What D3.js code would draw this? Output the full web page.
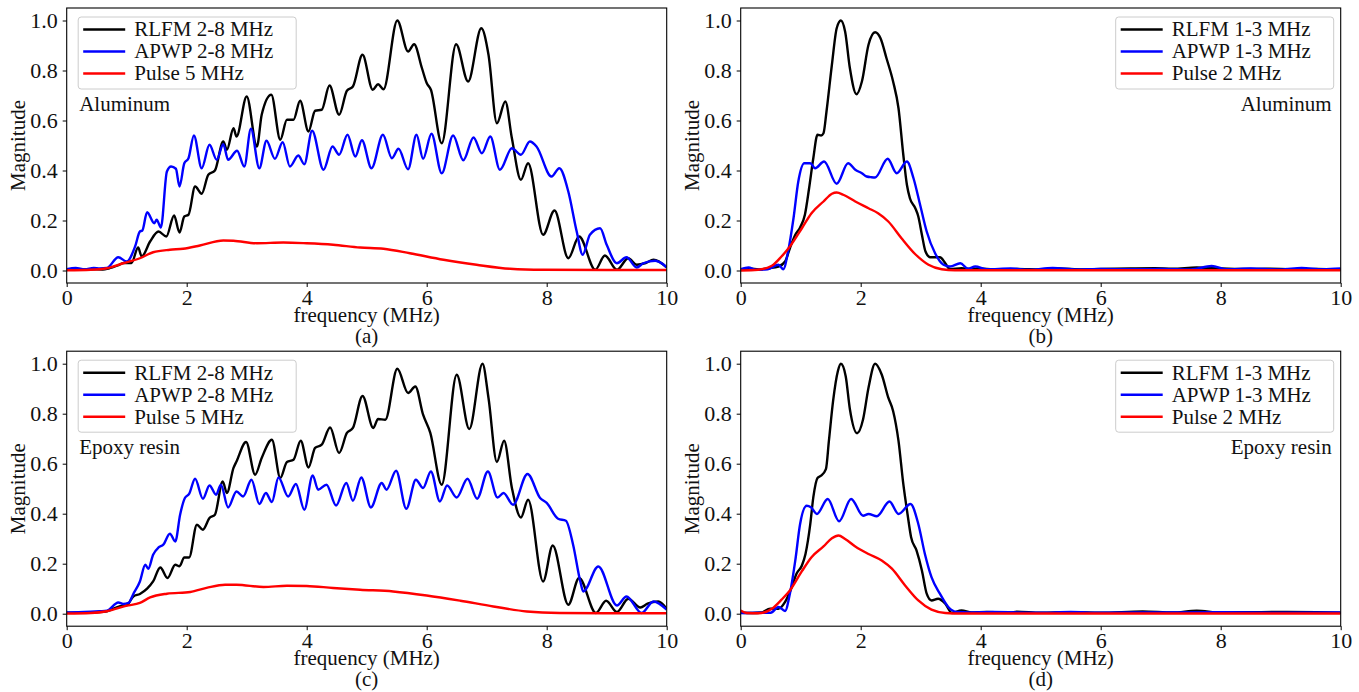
<!doctype html>
<html>
<head>
<meta charset="utf-8">
<title>Spectra</title>
<script src="https://d3js.org/d3.v7.min.js"></script>
<style>
body { margin: 0; background: #fff; }
</style>
</head>
<body>
<svg id="chart" width="1359" height="692"></svg>
<script>
var freqTicks = [0, 2, 4, 6, 8, 10];
var magTicks = [0, 0.2, 0.4, 0.6, 0.8, 1.0];
var labels28 = ["RLFM 2-8 MHz", "APWP 2-8 MHz", "Pulse 5 MHz"];
var labels13 = ["RLFM 1-3 MHz", "APWP 1-3 MHz", "Pulse 2 MHz"];
var colors = ["#000000", "#0000ff", "#ff0000"];

// (a) aluminum, 2-8 MHz
var rlfmA = [[0,0.004],[0.2,0.003],[0.4,0.005],[0.6,0.004],[0.7,0.008],[0.85,0.02],[0.95,0.03],[1.08,0.03],[1.19,0.092],[1.25,0.056],[1.39,0.116],[1.53,0.156],[1.66,0.136],[1.79,0.22],[1.88,0.152],[1.96,0.216],[2.03,0.223],[2.14,0.336],[2.25,0.307],[2.36,0.383],[2.47,0.40],[2.61,0.516],[2.67,0.483],[2.78,0.569],[2.83,0.536],[3.0,0.696],[3.17,0.496],[3.25,0.623],[3.41,0.703],[3.56,0.523],[3.67,0.603],[3.78,0.603],[3.89,0.679],[4.03,0.556],[4.14,0.639],[4.25,0.643],[4.38,0.74],[4.54,0.623],[4.67,0.719],[4.77,0.736],[4.93,0.863],[5.1,0.723],[5.19,0.745],[5.28,0.725],[5.51,1.0],[5.69,0.876],[5.79,0.905],[5.92,0.81],[6.0,0.75],[6.07,0.723],[6.25,0.509],[6.49,0.905],[6.69,0.756],[6.91,0.969],[7.03,0.863],[7.17,0.589],[7.31,0.676],[7.42,0.529],[7.57,0.363],[7.69,0.429],[7.94,0.143],[8.13,0.24],[8.36,0.049],[8.54,0.136],[8.81,0.003],[8.97,0.06],[9.17,0.003],[9.36,0.049],[9.5,0.023],[9.65,0.03],[9.78,0.043],[10,0.013]];
var apwpA = [[0,0.005],[0.15,0.01],[0.3,0.004],[0.45,0.01],[0.55,0.008],[0.67,0.01],[0.86,0.053],[1.0,0.036],[1.14,0.096],[1.22,0.156],[1.26,0.16],[1.34,0.233],[1.46,0.189],[1.5,0.203],[1.57,0.172],[1.67,0.396],[1.74,0.416],[1.82,0.407],[1.88,0.336],[1.96,0.429],[2.03,0.449],[2.12,0.54],[2.25,0.409],[2.38,0.503],[2.5,0.443],[2.61,0.505],[2.69,0.443],[2.84,0.479],[2.96,0.416],[3.07,0.567],[3.21,0.409],[3.33,0.519],[3.47,0.447],[3.6,0.513],[3.72,0.416],[3.86,0.46],[3.96,0.425],[4.09,0.559],[4.28,0.403],[4.43,0.496],[4.54,0.463],[4.68,0.543],[4.81,0.456],[4.92,0.521],[5.08,0.409],[5.27,0.543],[5.42,0.449],[5.53,0.487],[5.69,0.405],[5.83,0.543],[5.94,0.447],[6.08,0.547],[6.25,0.389],[6.44,0.54],[6.61,0.441],[6.78,0.532],[6.92,0.469],[7.06,0.536],[7.22,0.403],[7.42,0.489],[7.57,0.463],[7.72,0.516],[7.83,0.496],[8.08,0.376],[8.21,0.409],[8.36,0.316],[8.5,0.156],[8.6,0.063],[8.72,0.143],[8.89,0.169],[9.0,0.103],[9.17,0.029],[9.33,0.053],[9.5,0.012],[9.61,0.029],[9.81,0.039],[10,0.013]];
var pulseA = [[0,0.001],[0.4,0.003],[0.67,0.009],[0.94,0.029],[1.22,0.049],[1.44,0.073],[1.72,0.083],[1.94,0.087],[2.22,0.1],[2.61,0.12],[2.78,0.119],[3.17,0.109],[3.61,0.112],[4.0,0.109],[4.44,0.103],[4.89,0.092],[5.28,0.087],[5.72,0.069],[6.28,0.043],[6.83,0.023],[7.39,0.007],[7.94,0.003],[9,0.002],[10,0.002]];

// (b) aluminum, 1-3 MHz
var rlfmB = [[0,0.004],[0.15,0.008],[0.3,0.004],[0.46,0.009],[0.63,0.016],[0.74,0.036],[0.82,0.089],[0.91,0.143],[0.99,0.172],[1.07,0.223],[1.14,0.329],[1.21,0.449],[1.28,0.543],[1.34,0.54],[1.38,0.549],[1.43,0.636],[1.52,0.823],[1.6,0.969],[1.67,1.0],[1.74,0.956],[1.82,0.809],[1.93,0.705],[2.02,0.756],[2.13,0.903],[2.24,0.953],[2.33,0.929],[2.43,0.849],[2.54,0.756],[2.63,0.649],[2.71,0.463],[2.77,0.343],[2.82,0.289],[2.91,0.249],[2.96,0.216],[3.02,0.143],[3.08,0.076],[3.16,0.053],[3.32,0.053],[3.41,0.029],[3.49,0.005],[3.68,0.009],[3.85,0.006],[4.0,0.008],[4.2,0.004],[4.6,0.006],[5.0,0.004],[5.3,0.008],[5.7,0.004],[6.0,0.006],[6.5,0.008],[6.9,0.009],[7.2,0.007],[7.6,0.012],[8.0,0.008],[8.4,0.006],[8.8,0.007],[9.2,0.005],[9.6,0.006],[10,0.004]];
var apwpB = [[0,0.005],[0.13,0.012],[0.25,0.003],[0.45,0.005],[0.63,0.023],[0.71,0.005],[0.79,0.076],[0.88,0.209],[0.96,0.356],[1.06,0.429],[1.16,0.429],[1.24,0.409],[1.39,0.436],[1.6,0.347],[1.79,0.429],[1.91,0.403],[2.02,0.389],[2.1,0.376],[2.18,0.373],[2.24,0.372],[2.45,0.447],[2.6,0.389],[2.77,0.436],[2.88,0.369],[2.99,0.263],[3.1,0.156],[3.24,0.069],[3.38,0.023],[3.49,0.016],[3.66,0.029],[3.79,0.007],[3.91,0.016],[4.1,0.005],[4.5,0.008],[4.8,0.003],[5.2,0.01],[5.6,0.004],[6.0,0.006],[6.5,0.005],[7.0,0.006],[7.5,0.004],[7.85,0.018],[8.1,0.005],[8.5,0.008],[9.0,0.004],[9.35,0.01],[9.7,0.005],[10,0.008]];
var pulseB = [[0,0],[0.29,0.003],[0.52,0.019],[0.68,0.056],[0.82,0.096],[1.02,0.169],[1.18,0.229],[1.38,0.276],[1.52,0.307],[1.6,0.312],[1.71,0.303],[1.91,0.276],[2.13,0.249],[2.29,0.229],[2.46,0.196],[2.68,0.129],[2.91,0.065],[3.13,0.023],[3.35,0.005],[3.57,0.001],[10,0.001]];

// (c) epoxy resin, 2-8 MHz
var rlfmC = [[0,0.004],[0.3,0.004],[0.5,0.006],[0.67,0.01],[0.89,0.03],[1.0,0.033],[1.11,0.069],[1.22,0.079],[1.34,0.1],[1.44,0.129],[1.56,0.185],[1.68,0.143],[1.81,0.196],[1.88,0.19],[1.96,0.225],[2.04,0.225],[2.17,0.356],[2.27,0.336],[2.38,0.383],[2.47,0.396],[2.6,0.529],[2.67,0.483],[2.78,0.583],[2.83,0.609],[2.99,0.687],[3.14,0.556],[3.25,0.623],[3.42,0.696],[3.56,0.543],[3.67,0.607],[3.78,0.616],[3.9,0.692],[4.03,0.585],[4.14,0.663],[4.25,0.676],[4.39,0.745],[4.54,0.643],[4.67,0.723],[4.77,0.743],[4.93,0.871],[5.11,0.743],[5.19,0.779],[5.31,0.776],[5.51,0.98],[5.69,0.883],[5.81,0.909],[5.94,0.796],[6.06,0.723],[6.25,0.516],[6.5,0.956],[6.71,0.739],[6.93,1.0],[7.03,0.863],[7.17,0.607],[7.29,0.692],[7.42,0.503],[7.57,0.385],[7.69,0.456],[7.94,0.129],[8.1,0.273],[8.36,0.036],[8.54,0.143],[8.82,0.003],[8.99,0.052],[9.17,0.007],[9.36,0.06],[9.56,0.025],[9.68,0.04],[9.86,0.049],[10,0.02]];
var apwpC = [[0,0.005],[0.2,0.006],[0.4,0.008],[0.55,0.01],[0.67,0.012],[0.86,0.045],[0.94,0.039],[1.03,0.043],[1.11,0.079],[1.22,0.129],[1.31,0.196],[1.36,0.18],[1.44,0.236],[1.53,0.265],[1.61,0.276],[1.72,0.32],[1.81,0.289],[1.89,0.396],[1.97,0.463],[2.04,0.479],[2.14,0.54],[2.27,0.46],[2.38,0.513],[2.49,0.476],[2.57,0.516],[2.69,0.425],[2.83,0.489],[2.94,0.469],[3.08,0.536],[3.21,0.439],[3.32,0.483],[3.42,0.447],[3.53,0.545],[3.69,0.469],[3.82,0.519],[3.96,0.416],[4.1,0.553],[4.19,0.496],[4.33,0.516],[4.49,0.433],[4.66,0.523],[4.77,0.452],[4.91,0.545],[5.07,0.425],[5.25,0.523],[5.33,0.496],[5.49,0.572],[5.66,0.42],[5.82,0.536],[5.94,0.503],[6.07,0.569],[6.22,0.449],[6.34,0.513],[6.5,0.465],[6.68,0.54],[6.84,0.46],[7.02,0.569],[7.18,0.465],[7.28,0.483],[7.44,0.436],[7.68,0.559],[7.89,0.463],[8.0,0.443],[8.19,0.38],[8.32,0.372],[8.44,0.276],[8.56,0.129],[8.61,0.089],[8.86,0.189],[9.17,0.033],[9.33,0.069],[9.58,0.003],[9.78,0.049],[10,0.016]];
var pulseC = [[0,0.001],[0.4,0.003],[0.67,0.01],[1.0,0.032],[1.22,0.043],[1.39,0.065],[1.67,0.08],[2.06,0.087],[2.33,0.103],[2.64,0.116],[2.83,0.116],[3.28,0.107],[3.67,0.112],[4.0,0.111],[4.44,0.103],[4.89,0.096],[5.44,0.089],[6.0,0.073],[6.56,0.052],[7.11,0.029],[7.67,0.009],[8.22,0.003],[9,0.002],[10,0.002]];

// (d) epoxy resin, 1-3 MHz
var rlfmD = [[0,0.004],[0.2,0.003],[0.35,0.005],[0.49,0.02],[0.63,0.02],[0.74,0.047],[0.85,0.106],[0.93,0.16],[1.02,0.193],[1.08,0.239],[1.16,0.359],[1.21,0.465],[1.28,0.543],[1.34,0.552],[1.42,0.578],[1.47,0.691],[1.54,0.851],[1.62,0.971],[1.67,1.0],[1.75,0.95],[1.82,0.818],[1.94,0.722],[2.04,0.778],[2.13,0.904],[2.24,1.0],[2.35,0.957],[2.46,0.864],[2.54,0.811],[2.63,0.691],[2.71,0.519],[2.78,0.399],[2.84,0.306],[2.93,0.253],[3.02,0.173],[3.1,0.08],[3.18,0.053],[3.29,0.06],[3.41,0.04],[3.52,0.003],[3.68,0.013],[3.85,0.005],[4.1,0.007],[4.5,0.004],[4.6,0.008],[5.0,0.004],[5.5,0.006],[6.0,0.004],[6.7,0.009],[7.2,0.005],[7.6,0.012],[8.0,0.005],[8.5,0.006],[9.1,0.007],[9.6,0.006],[10,0.004]];
var apwpD = [[0,0.003],[0.3,0.004],[0.5,0.004],[0.63,0.027],[0.74,0.011],[0.82,0.08],[0.91,0.213],[0.99,0.359],[1.1,0.432],[1.17,0.426],[1.27,0.399],[1.45,0.459],[1.64,0.37],[1.84,0.459],[2.04,0.392],[2.13,0.399],[2.27,0.39],[2.48,0.449],[2.63,0.399],[2.83,0.439],[2.96,0.359],[3.07,0.239],[3.18,0.146],[3.32,0.08],[3.46,0.027],[3.6,0.007],[3.8,0.005],[4.2,0.007],[5.0,0.004],[5.5,0.007],[6.0,0.004],[7.0,0.005],[8.0,0.006],[9.0,0.004],[10,0.005]];
var pulseD = [[0,0.013],[0.1,0.003],[0.3,0.002],[0.52,0.02],[0.68,0.056],[0.82,0.093],[1.02,0.17],[1.18,0.226],[1.38,0.269],[1.52,0.302],[1.63,0.313],[1.74,0.299],[1.91,0.269],[2.13,0.239],[2.35,0.213],[2.52,0.18],[2.74,0.113],[2.96,0.053],[3.18,0.016],[3.41,0.003],[3.7,0.001],[10,0.001]];

var svg = d3.select("#chart");
var W = 600, H = 275, FS = 21, TFS = 22;
var FONT = "'Liberation Serif', 'Times New Roman', serif";

var panels = [
  { left: 66.7, top: 8, tag: "(a)", material: "Aluminum", side: "left", labels: labels28, series: [rlfmA, apwpA, pulseA] },
  { left: 740.7, top: 8, tag: "(b)", material: "Aluminum", side: "right", labels: labels13, series: [rlfmB, apwpB, pulseB] },
  { left: 66.7, top: 351.2, tag: "(c)", material: "Epoxy resin", side: "left", labels: labels28, series: [rlfmC, apwpC, pulseC] },
  { left: 740.7, top: 351.2, tag: "(d)", material: "Epoxy resin", side: "right", labels: labels13, series: [rlfmD, apwpD, pulseD] }
];

function serif(sel, size) {
  return sel.style("font-family", FONT).style("font-size", size + "px").style("fill", "#111");
}

panels.forEach(function (p, i) {
  var x = d3.scaleLinear().domain([0, 10]).range([p.left, p.left + W]);
  var y = d3.scaleLinear().domain([-0.05, 1.05]).range([p.top + H, p.top]);
  var g = svg.append("g");

  g.append("clipPath").attr("id", "clip" + i)
    .append("rect").attr("x", p.left).attr("y", p.top).attr("width", W).attr("height", H);

  var line = d3.line()
    .x(function (d) { return x(d[0]); })
    .y(function (d) { return y(d[1]); })
    .curve(d3.curveMonotoneX);

  g.append("g").attr("clip-path", "url(#clip" + i + ")")
    .selectAll("path")
    .data(p.series)
    .enter()
    .append("path")
    .attr("d", line)
    .attr("fill", "none")
    .attr("stroke", function (d, k) { return colors[k]; })
    .attr("stroke-width", 2.4)
    .attr("stroke-linejoin", "round");

  // frame
  g.append("rect")
    .attr("x", p.left).attr("y", p.top).attr("width", W).attr("height", H)
    .attr("fill", "none").attr("stroke", "#000").attr("stroke-width", 1.1);

  var xAxis = g.append("g")
    .attr("transform", "translate(0," + (p.top + H) + ")")
    .call(d3.axisBottom(x).tickValues(freqTicks).tickFormat(d3.format("d")).tickSize(4).tickPadding(2));
  var yAxis = g.append("g")
    .attr("transform", "translate(" + p.left + ",0)")
    .call(d3.axisLeft(y).tickValues(magTicks).tickFormat(d3.format(".1f")).tickSize(4).tickPadding(5));
  [xAxis, yAxis].forEach(function (a) {
    a.select(".domain").remove();
    serif(a.selectAll("text"), TFS);
    a.selectAll("line").attr("stroke", "#000");
  });

  serif(g.append("text"), FS)
    .attr("x", p.left + W / 2).attr("y", p.top + H + 39)
    .attr("text-anchor", "middle")
    .text("frequency (MHz)");
  serif(g.append("text"), FS)
    .attr("x", p.left + W / 2).attr("y", p.top + H + 60)
    .attr("text-anchor", "middle")
    .text(p.tag);
  serif(g.append("text"), FS)
    .attr("transform", "translate(" + (p.left - 42) + "," + (p.top + H / 2) + ") rotate(-90)")
    .attr("text-anchor", "middle")
    .text("Magnitude");

  // legend
  var lw = 218, lh = 72;
  var lx = p.side === "left" ? p.left + 11.5 : p.left + W - 7 - lw;
  var ly = p.top + 9;
  var leg = g.append("g").attr("transform", "translate(" + lx + "," + ly + ")");
  leg.append("rect").attr("width", lw).attr("height", lh).attr("rx", 3)
    .attr("fill", "#fff").attr("fill-opacity", 0.8).attr("stroke", "#cccccc").attr("stroke-width", 1);
  var rows = leg.selectAll("g.row").data(p.labels).enter().append("g").attr("class", "row")
    .attr("transform", function (d, k) { return "translate(0," + (12.5 + k * 22) + ")"; });
  rows.append("line").attr("x1", 5).attr("x2", 47).attr("y1", 0).attr("y2", 0)
    .attr("stroke", function (d, k) { return colors[k]; }).attr("stroke-width", 2.4);
  serif(rows.append("text"), FS).attr("x", 56).attr("y", 0).attr("dy", "0.33em")
    .text(function (d) { return d; });

  // material note
  if (p.side === "left") {
    serif(g.append("text"), FS).attr("x", p.left + 12.5).attr("y", p.top + 103)
      .text(p.material);
  } else {
    serif(g.append("text"), FS).attr("x", p.left + W - 9).attr("y", p.top + 103)
      .attr("text-anchor", "end").text(p.material);
  }
});
</script>
</body>
</html>
